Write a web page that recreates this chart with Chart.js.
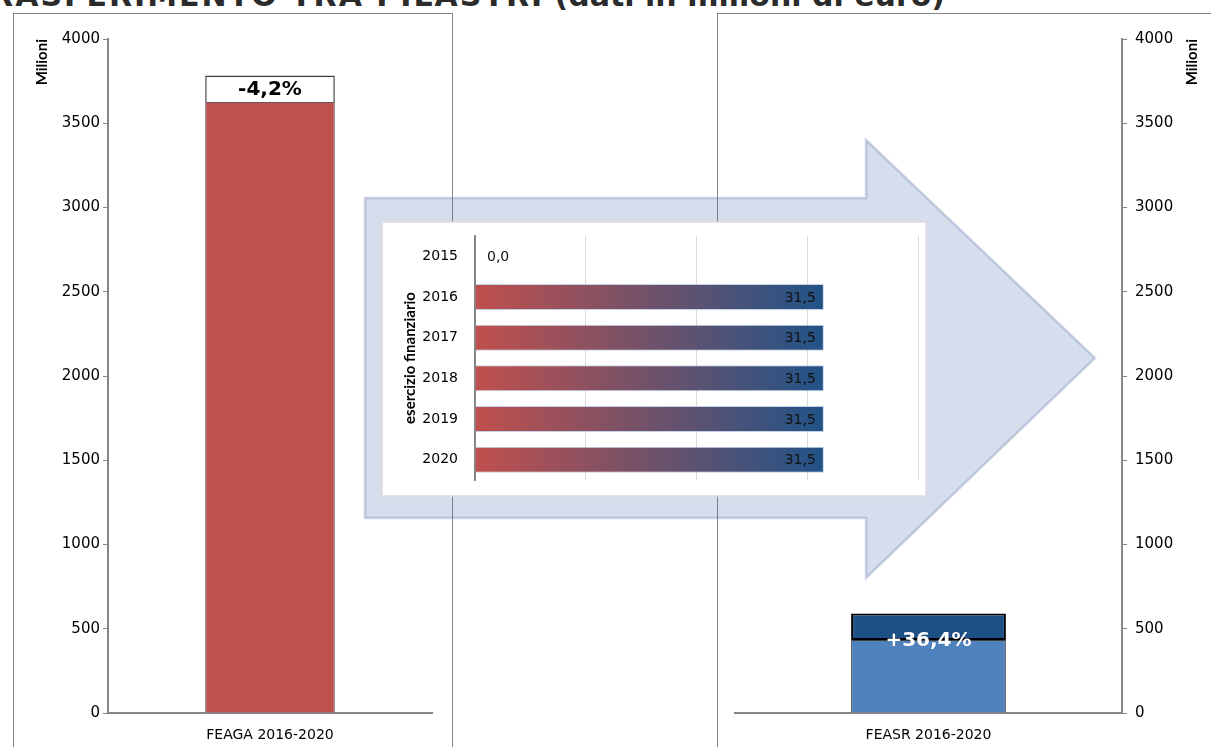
<!doctype html>
<html lang="it">
<head>
    <meta charset="utf-8">
    <title>Trasferimento tra pilastri</title>
    <script src="https://cdn.jsdelivr.net/npm/chart.js@4.4.1/dist/chart.umd.min.js"></script>
    <style>
        html, body { margin: 0; padding: 0; background: #fff; }
        body { width: 1211px; height: 747px; overflow: hidden; position: relative; }
        #titolo {
            position: absolute; right: 266px; top: -19px; white-space: nowrap;
            font: bold 30px/30px "DejaVu Sans", sans-serif; color: #2b2b2b;
        }
        #titolo span { letter-spacing: 2px; }
        .pannello { position: absolute; border: 1px solid #868686; background: #fff; }
        #pannelloSx { left: 13px; top: 13px; width: 438px; height: 800px; }
        #pannelloDx { left: 717px; top: 13px; width: 600px; height: 800px; }
        canvas { position: absolute; }
        #feaga { left: 14px; top: 14px; width: 438px; height: 740px; }
        #feasr { left: 718px; top: 14px; width: 493px; height: 740px; }
        #trasf { left: 360px; top: 135px; width: 740px; height: 450px; }
    </style>
</head>
<body>
<div id="titolo"><span>TRASFERIMENTO TRA PILASTRI</span> (dati in milioni di euro)</div>
<div class="pannello" id="pannelloSx"></div>
<div class="pannello" id="pannelloDx"></div>
<canvas id="feaga" width="438" height="740"></canvas>
<canvas id="feasr" width="493" height="740"></canvas>
<canvas id="trasf" width="740" height="450"></canvas>

<script>
    // dati (milioni di euro)
    const pilastri = ['FEAGA 2016-2020', 'FEASR 2016-2020'];
    const feagaDopo = [3626.5];
    const feagaTrasferito = [157.5];
    const feasrPrima = [432.7];
    const feasrTrasferito = [157.5];
    const variazioni = ['-4,2%', '+36,4%'];
    const esercizi = ['2015', '2016', '2017', '2018', '2019', '2020'];
    const trasferimenti = [0, 31.5, 31.5, 31.5, 31.5, 31.5];
    const etichetteTrasf = ['0,0', '31,5', '31,5', '31,5', '31,5', '31,5'];

    const grigioAsse = '#868686';
    const fontTick = {family: 'DejaVu Sans', size: 15};
    const numeroSemplice = (v) => String(v);

    // scritta percentuale sulla barra
    function etichettaVariazione(testo, colore, centrata) {
        return {
            id: 'variazione',
            afterDatasetsDraw(chart) {
                const el = chart.getDatasetMeta(1).data[0];
                const ctx = chart.ctx;
                const y = centrata ? (el.y + el.base) / 2 : el.base;
                ctx.save();
                ctx.font = 'bold 20px "DejaVu Sans"';
                ctx.fillStyle = colore;
                ctx.textAlign = 'center';
                ctx.textBaseline = 'middle';
                ctx.fillText(testo, el.x, y + 1);
                ctx.restore();
            }
        };
    }

    // FEAGA
    new Chart(document.getElementById('feaga'), {
        type: 'bar',
        data: {
            labels: [pilastri[0]],
            datasets: [{
                data: feagaDopo,
                backgroundColor: '#c0504d',
                borderColor: '#595959',
                borderWidth: 1,
                barPercentage: 0.4,
                categoryPercentage: 1
            }, {
                data: feagaTrasferito,
                backgroundColor: '#ffffff',
                borderColor: '#3f3f3f',
                borderWidth: 1.5,
                barPercentage: 0.4,
                categoryPercentage: 1
            }]
        },
        options: {
            responsive: false,
            animation: false,
            layout: {padding: {top: 25, right: 20, left: 0, bottom: 0}},
            plugins: {legend: {display: false}, tooltip: {enabled: false}},
            scales: {
                x: {
                    stacked: true,
                    grid: {display: false, drawTicks: false},
                    border: {color: grigioAsse, width: 2},
                    ticks: {padding: 14, color: '#000', font: {family: 'DejaVu Sans', size: 14}},
                    afterFit(s) { s.height = 41; }
                },
                y: {
                    stacked: true,
                    min: 0,
                    max: 4000,
                    ticks: {stepSize: 500, padding: 3, color: '#000', font: fontTick, callback: numeroSemplice},
                    grid: {drawOnChartArea: false, tickLength: 5, color: grigioAsse, lineWidth: 1},
                    border: {color: grigioAsse, width: 2},
                    title: {
                        display: true, text: 'Milioni', align: 'end', color: '#000',
                        font: {family: 'Lato', size: 15, weight: 'bold'},
                        padding: {top: 19, bottom: 0}
                    },
                    afterFit(s) { s.width = 94; }
                }
            }
        },
        plugins: [etichettaVariazione(variazioni[0], '#000', true)]
    });

    // FEASR
    const titoloDestra = {
        id: 'titoloDestra',
        afterDraw(chart) {
            const ctx = chart.ctx;
            ctx.save();
            ctx.translate(474, chart.chartArea.top);
            ctx.rotate(-Math.PI / 2);
            ctx.font = 'bold 15px Lato';
            ctx.fillStyle = '#000';
            ctx.textAlign = 'right';
            ctx.textBaseline = 'middle';
            ctx.fillText('Milioni', 0, 0);
            ctx.restore();
        }
    };

    new Chart(document.getElementById('feasr'), {
        type: 'bar',
        data: {
            labels: [pilastri[1]],
            datasets: [{
                data: feasrPrima,
                backgroundColor: '#4f81bd',
                borderColor: '#404040',
                borderWidth: 1,
                barPercentage: 0.4,
                categoryPercentage: 1
            }, {
                data: feasrTrasferito,
                backgroundColor: '#1f5085',
                borderColor: '#000000',
                borderWidth: 2,
                borderSkipped: false,
                barPercentage: 0.4,
                categoryPercentage: 1
            }]
        },
        options: {
            responsive: false,
            animation: false,
            layout: {padding: {top: 25, right: 0, left: 17, bottom: 0}},
            plugins: {legend: {display: false}, tooltip: {enabled: false}},
            scales: {
                x: {
                    stacked: true,
                    grid: {display: false, drawTicks: false},
                    border: {color: grigioAsse, width: 2},
                    ticks: {padding: 14, color: '#000', font: {family: 'DejaVu Sans', size: 14}},
                    afterFit(s) { s.height = 41; }
                },
                y: {
                    position: 'right',
                    stacked: true,
                    min: 0,
                    max: 4000,
                    ticks: {stepSize: 500, padding: 8, color: '#000', font: fontTick, callback: numeroSemplice},
                    grid: {drawOnChartArea: false, tickLength: 5, color: grigioAsse, lineWidth: 1},
                    border: {color: grigioAsse, width: 2},
                    afterFit(s) { s.width = 89; }
                }
            }
        },
        plugins: [etichettaVariazione(variazioni[1], '#fff', false), titoloDestra]
    });

    // freccia con il dettaglio del trasferimento annuale
    const freccia = {
        id: 'freccia',
        beforeDraw(chart) {
            const ctx = chart.ctx;
            ctx.save();
            ctx.beginPath();
            ctx.moveTo(5, 63);
            ctx.lineTo(506, 63);
            ctx.lineTo(506, 5);
            ctx.lineTo(735, 223);
            ctx.lineTo(506, 443);
            ctx.lineTo(506, 383);
            ctx.lineTo(5, 383);
            ctx.closePath();
            ctx.fillStyle = 'rgba(68, 100, 170, 0.22)';
            ctx.fill();
            ctx.lineWidth = 2.5;
            ctx.strokeStyle = 'rgba(90, 110, 160, 0.28)';
            ctx.stroke();
            // riquadro bianco
            ctx.fillStyle = '#fff';
            ctx.fillRect(22, 87, 544, 274);
            ctx.lineWidth = 1.5;
            ctx.strokeStyle = '#dcdcdc';
            ctx.strokeRect(22, 87, 544, 274);
            ctx.restore();
        },
        afterDatasetsDraw(chart) {
            const ctx = chart.ctx;
            const meta = chart.getDatasetMeta(0);
            ctx.save();
            ctx.font = '14px "DejaVu Sans"';
            ctx.fillStyle = '#111';
            ctx.textBaseline = 'middle';
            meta.data.forEach((el, i) => {
                if (trasferimenti[i] > 0) {
                    ctx.textAlign = 'right';
                    ctx.fillText(etichetteTrasf[i], el.x - 8, el.y + 1);
                } else {
                    ctx.textAlign = 'left';
                    ctx.fillText(etichetteTrasf[i], el.base + 12, el.y + 1);
                }
            });
            ctx.restore();
        }
    };

    new Chart(document.getElementById('trasf'), {
        type: 'bar',
        data: {
            labels: esercizi,
            datasets: [{
                data: trasferimenti,
                backgroundColor: (c) => {
                    const ch = c.chart;
                    if (!ch.chartArea) return '#c0504d';
                    const x = ch.scales.x;
                    const fine = trasferimenti[c.dataIndex] || 1;
                    const g = ch.ctx.createLinearGradient(x.getPixelForValue(0), 0, x.getPixelForValue(fine), 0);
                    g.addColorStop(0, '#c0504d');
                    g.addColorStop(1, '#215387');
                    return g;
                },
                borderColor: 'rgba(190, 205, 228, 0.9)',
                borderWidth: 1,
                borderSkipped: 'start',
                barPercentage: 0.64,
                categoryPercentage: 1
            }]
        },
        options: {
            indexAxis: 'y',
            responsive: false,
            animation: false,
            layout: {padding: {top: 101, right: 182, left: 40, bottom: 105}},
            plugins: {legend: {display: false}, tooltip: {enabled: false}},
            scales: {
                x: {
                    min: 0,
                    max: 40,
                    ticks: {display: false, stepSize: 10},
                    grid: {color: '#d9d9d9', drawTicks: false},
                    border: {display: false},
                    afterFit(s) { s.height = 0; }
                },
                y: {
                    grid: {display: false, drawTicks: false},
                    border: {color: grigioAsse, width: 2},
                    ticks: {padding: 17, color: '#000', font: {family: 'DejaVu Sans', size: 14}},
                    title: {
                        display: true, text: 'esercizio finanziario', color: '#000',
                        font: {family: 'Lato', size: 15, weight: 'bold'},
                        padding: {top: 1, bottom: 0}
                    },
                    afterFit(s) { s.width = 75; }
                }
            }
        },
        plugins: [freccia]
    });
</script>
</body>
</html>
